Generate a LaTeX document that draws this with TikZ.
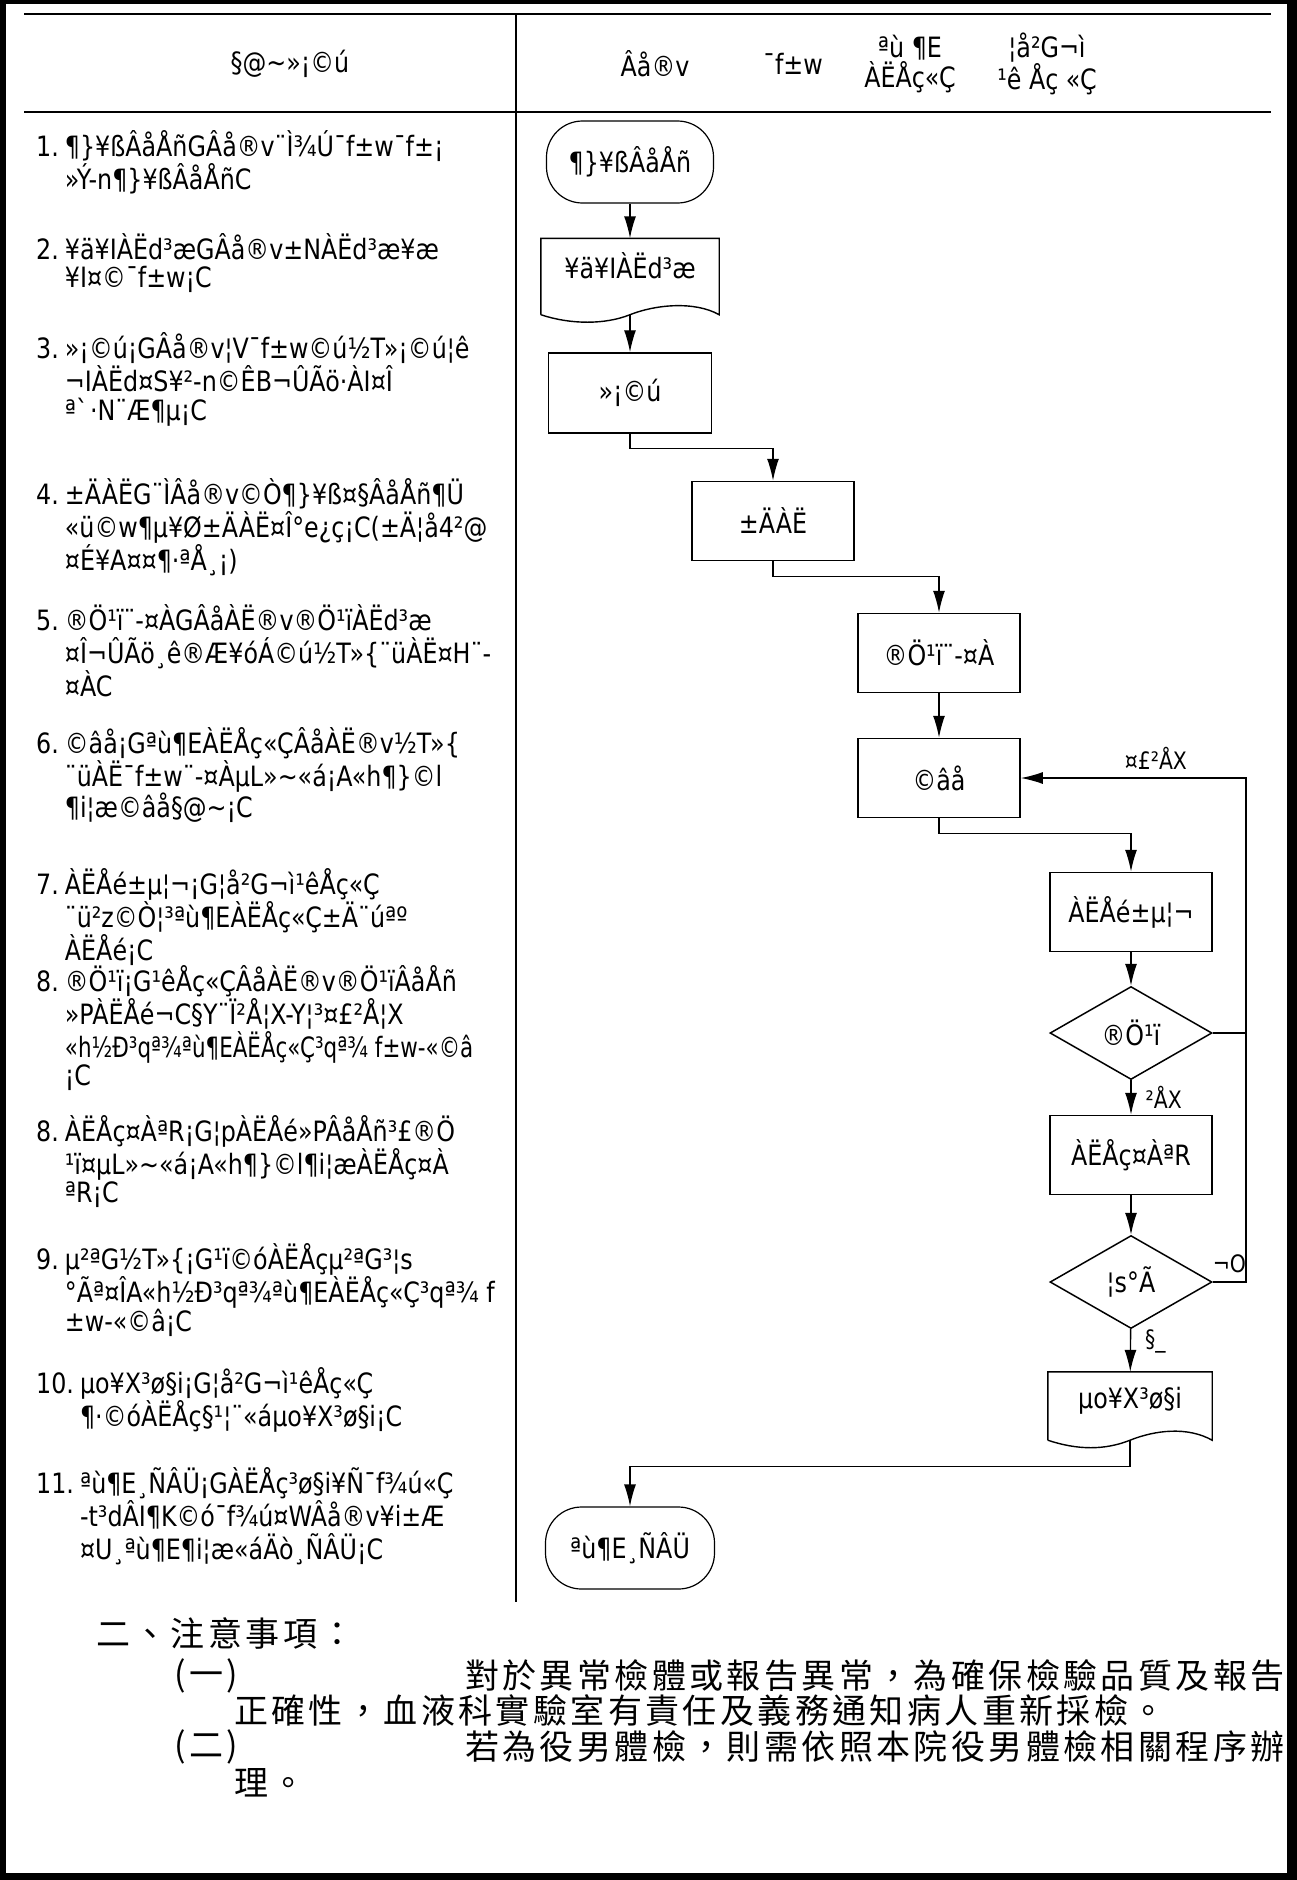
\documentclass[tikz,border=0pt]{standalone}
\usepackage{fontspec}
\setmainfont{DejaVu Sans}[FakeStretch=0.85]
\newfontfamily\cjk{Noto Sans CJK TC}[LetterSpace=10]
\usetikzlibrary{shapes.geometric,arrows.meta}

\begin{document}
\begin{tikzpicture}[x=1pt,y=-1pt,
    txt/.style={inner sep=0pt,font=\fontsize{28}{24}\selectfont},
    lbl/.style={inner sep=0pt,font=\fontsize{24}{24}\selectfont},
    note/.style={inner sep=0pt,anchor=west,font=\cjk\fontsize{34}{40}\selectfont},
    box/.style={draw,line width=1.5pt,minimum width=162pt,minimum height=79pt,inner sep=0pt,font=\fontsize{28}{28}\selectfont},
    term/.style={draw,line width=1.2pt,rounded corners=36pt,minimum width=167pt,minimum height=82pt,inner sep=0pt,font=\fontsize{28}{28}\selectfont},
    doc/.style={minimum height=76pt,inner sep=0pt,text depth=22pt,font=\fontsize{28}{28}\selectfont},
    decide/.style={draw,diamond,line width=1.5pt,aspect=1.74,minimum width=162pt,minimum height=93pt,inner sep=0pt,font=\fontsize{28}{28}\selectfont},
    arr/.style={line width=1.4pt,-{Latex[length=22pt,width=12pt]}},
    wire/.style={line width=1.4pt}]
	\useasboundingbox (0,0) rectangle (1297,1880);
	% frame and table
	\fill[black] (0,0) rectangle (1297,1880);
	\fill[white] (6,4) rectangle (1287,1873);
	\draw[line width=2pt] (24,14) -- (1271,14);
	\draw[line width=2pt] (24,112) -- (1271,112);
	\draw[line width=1.3pt] (516,14) -- (516,1602);

	% header
	\node[txt] (hleft) at (290,64) {§@\textasciitilde»¡©ú};
	\node[txt] (hdoc) at (655,64) {Âå®v};
	\node[txt] (hpat) at (793,64) {¯f±w};
	\node[txt,align=center] (hclin) at (910,64) {ªù ¶E\\ÀËÅç«Ç};
	\node[txt,align=center] (hlab) at (1047,64) {¦å²G¬ì\\¹ê Åç «Ç};

	% steps
	\node[txt,anchor=base west] (s1) at (36,156) {\begin{tabular}[t]{@{}l@{\hspace{6pt}}l@{}}1. & ¶\}¥ßÂåÅñGÂå®v¨Ì¾Ú¯f±w¯f±¡\\ & »Ý-n¶\}¥ßÂåÅñC\end{tabular}};
	\node[txt,anchor=base west] (s2) at (36,259) {\begin{tabular}[t]{@{}l@{\hspace{6pt}}l@{}}2. & ¥ä¥IÀËd³æGÂå®v±NÀËd³æ¥æ\\ & ¥I¤©¯f±w¡C\end{tabular}};
	\node[txt,anchor=base west] (s3) at (36,358) {\begin{tabular}[t]{@{}l@{\hspace{6pt}}l@{}}3. & »¡©ú¡GÂå®v¦V¯f±w©ú½T»¡©ú¦ê\\ & ¬IÀËd¤S¥²-n©ÊB¬ÛÃö·ÀI¤Î\\ & ª\textasciigrave·N¨Æ¶µ¡C\end{tabular}};
	\node[txt,anchor=base west] (s4) at (36,504) {\begin{tabular}[t]{@{}l@{\hspace{6pt}}l@{}}4. & ±ÄÀËG¨ÌÂå®v©Ò¶\}¥ß¤§ÂåÅñ¶Ü\\ & «ü©w¶µ¥Ø±ÄÀË¤Î°e¿ç¡C(±Ä¦å4²@\\ & ¤É¥A¤¤¶·ªÅ¸¡)\end{tabular}};
	\node[txt,anchor=base west] (s5) at (36,630) {\begin{tabular}[t]{@{}l@{\hspace{6pt}}l@{}}5. & ®Ö¹ï¨-¤ÀGÂåÀË®v®Ö¹ïÀËd³æ\\ & ¤Î¬ÛÃö¸ê®Æ¥óÁ©ú½T»\{¨üÀË¤H¨-\\ & ¤ÀC\end{tabular}};
	\node[txt,anchor=base west] (s6) at (36,753) {\begin{tabular}[t]{@{}l@{\hspace{6pt}}l@{}}6. & ©âå¡Gªù¶EÀËÅç«ÇÂåÀË®v½T»\{\\ & ¨üÀË¯f±w¨-¤ÀµL»\textasciitilde«á¡A«h¶\}©l\\ & ¶i¦æ©âå§@\textasciitilde¡C\end{tabular}};
	\node[txt,anchor=base west] (s7) at (36,894) {\begin{tabular}[t]{@{}l@{\hspace{6pt}}l@{}}7. & ÀËÅé±µ¦¬¡G¦å²G¬ì¹êÅç«Ç\\ & ¨ü²z©Ò¦³ªù¶EÀËÅç«Ç±Ä¨úªº\\ & ÀËÅé¡C\end{tabular}};
	\node[txt,anchor=base west] (s8) at (36,991) {\begin{tabular}[t]{@{}l@{\hspace{6pt}}l@{}}8. & ®Ö¹ï¡G¹êÅç«ÇÂåÀË®v®Ö¹ïÂåÅñ\\ & »PÀËÅé¬C§Y¨Ï²Å¦X-Y¦³¤£²Å¦X\\ & \scalebox{0.9}[1]{«h½Ð³qª¾ªù¶EÀËÅç«Ç³qª¾ f±w-«©â}\\ & ¡C\end{tabular}};
	\node[txt,anchor=base west] (s8b) at (36,1141) {\begin{tabular}[t]{@{}l@{\hspace{6pt}}l@{}}8. & ÀËÅç¤ÀªR¡G¦pÀËÅé»PÂåÅñ³£®Ö\\ & ¹ï¤µL»\textasciitilde«á¡A«h¶\}©l¶i¦æÀËÅç¤À\\ & ªR¡C\end{tabular}};
	\node[txt,anchor=base west] (s9) at (36,1269) {\begin{tabular}[t]{@{}l@{\hspace{6pt}}l@{}}9. & µ²ªG½T»\{¡G¹ï©óÀËÅçµ²ªG³¦s\\ & °Ãª¤ÎA«h½Ð³qª¾ªù¶EÀËÅç«Ç³qª¾ f\\ & ±w-«©â¡C\end{tabular}};
	\node[txt,anchor=base west] (s10) at (36,1393) {\begin{tabular}[t]{@{}l@{\hspace{6pt}}l@{}}10. & µo¥X³ø§i¡G¦å²G¬ì¹êÅç«Ç\\ & ¶·©óÀËÅç§¹¦¨«áµo¥X³ø§i¡C\end{tabular}};
	\node[txt,anchor=base west] (s11) at (36,1493) {\begin{tabular}[t]{@{}l@{\hspace{6pt}}l@{}}11. & ªù¶E¸ÑÂÜ¡GÀËÅç³ø§i¥Ñ¯f¾ú«Ç\\ & -t³dÂI¶K©ó¯f¾ú¤WÂå®v¥i±Æ\\ & ¤U¸ªù¶E¶i¦æ«áÄò¸ÑÂÜ¡C\end{tabular}};

	% flow
	\node[term] at (630,162) (start) {¶\}¥ßÂåÅñ};
	\node[doc,minimum width=178pt] at (630,276.5) (bill) {¥ä¥IÀËd³æ};
	\node[box,minimum width=163pt,minimum height=80pt] at (630,393) (explain) {»¡©ú};
	\node[box] at (773,521) (collect) {±ÄÀË};
	\node[box] at (939,653) (ident) {®Ö¹ï¨-¤À};
	\node[box] at (939,778) (blood) {©âå};
	\node[box] at (1131,912) (recv) {ÀËÅé±µ¦¬};
	\node[decide] at (1131,1033) (check) {®Ö¹ï};
	\node[box] at (1131,1155) (analyse) {ÀËÅç¤ÀªR};
	\node[decide] at (1131,1282) (keep) {¦s°Ã};
	\node[doc,minimum width=164pt,minimum height=68pt,text depth=16pt] at (1130,1406) (report) {µo¥X³ø§i};
	\node[term,minimum width=169pt] at (630,1548) (finish) {ªù¶E¸ÑÂÜ};
	\coordinate (rail) at (1246,0);

	\draw[wire] (bill.south west) -- (bill.north west) -- (bill.north east) -- (bill.south east)
		.. controls +(-25,-14) and +(25,-10) .. (bill.south)
		.. controls +(-25,10) and +(30,10) .. (bill.south west);
	\draw[wire] (report.south west) -- (report.north west) -- (report.north east) -- (report.south east)
		.. controls +(-25,-14) and +(25,-10) .. (report.south)
		.. controls +(-25,10) and +(30,10) .. (report.south west);

	\draw[arr] (start) -- (bill);
	\draw[arr] (bill.south) -- (explain);
	\draw[arr] (explain.south) -- ++(0,15) -| (collect.north);
	\draw[arr] (collect.south) -- ++(0,15) -| (ident.north);
	\draw[arr] (ident) -- (blood);
	\draw[arr] (blood.south) -- ++(0,15) -| (recv.north);
	\draw[arr] (recv) -- (check);
	\draw[arr] (check) -- node[lbl,anchor=west,xshift=14pt] {²ÅX} (analyse);
	\draw[arr] (analyse) -- (keep);
	\draw[arr] (keep) -- node[lbl,anchor=west,xshift=14pt,pos=0.3] {§\_} (report);
	\draw[arr] (report.south) -- ++(0,26) -| (finish.north);
	\draw[wire] (check.east) -- (check.east -| rail);
	\draw[arr] (keep.east) -- node[lbl,above=8pt] {¬O} (keep.east -| rail) -- (blood.east -| rail)
		-- node[lbl,above=8pt,pos=0.4] {¤£²ÅX} (blood.east);

	% notes
	\node[note] (ntitle) at (96,1633) {二、注意事項：};
	\node[note] (n1) at (174,1676) {(一)};
	\node[note] (n1a) at (465,1676) {對於異常檢體或報告異常，為確保檢驗品質及報告};
	\node[note] (n1b) at (234,1711) {正確性，血液科實驗室有責任及義務通知病人重新採檢。};
	\node[note] (n2) at (174,1747) {(二)};
	\node[note] (n2a) at (465,1747) {若為役男體檢，則需依照本院役男體檢相關程序辦};
	\node[note] (n2b) at (234,1783) {理。};
\end{tikzpicture}
\end{document}
